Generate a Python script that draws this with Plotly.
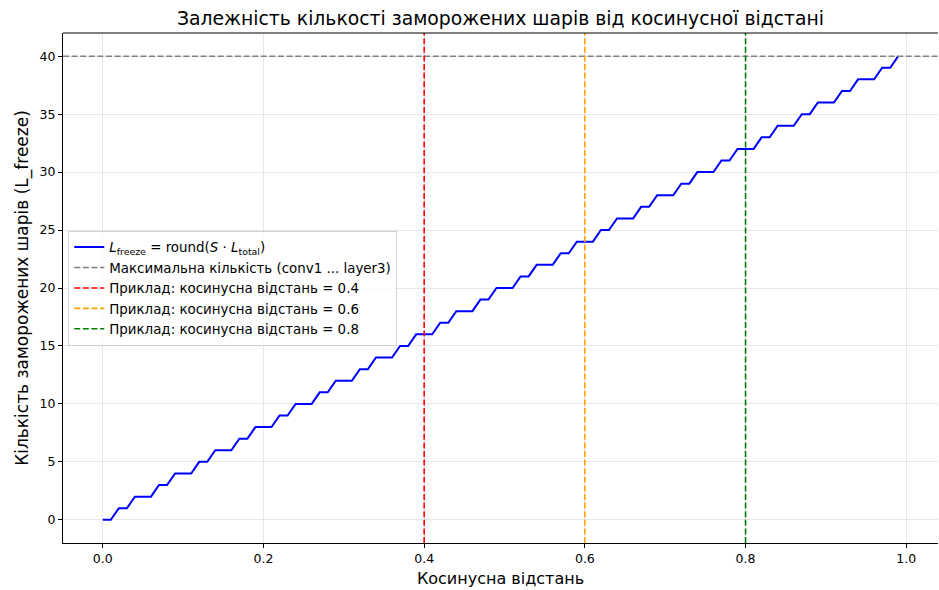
import numpy as np
import plotly.graph_objects as go

# Data
cos_dist = [round(i * 0.01, 2) for i in range(100)]
freeze_layers = [
    0, 0, 1, 1, 2, 2, 2, 3, 3, 4,
    4, 4, 5, 5, 6, 6, 6, 7, 7, 8,
    8, 8, 9, 9, 10, 10, 10, 11, 11, 12,
    12, 12, 13, 13, 14, 14, 14, 15, 15, 16,
    16, 16, 17, 17, 18, 18, 18, 19, 19, 20,
    20, 20, 21, 21, 22, 22, 22, 23, 23, 24,
    24, 24, 25, 25, 26, 26, 26, 27, 27, 28,
    28, 28, 29, 29, 30, 30, 30, 31, 31, 32,
    32, 32, 33, 33, 34, 34, 34, 35, 35, 36,
    36, 36, 37, 37, 38, 38, 38, 39, 39, 40,
]
max_layers = 40
example_dists = [0.4, 0.6, 0.8]
example_colors = ["#ff0000", "#ffa500", "#008000"]

x_ticks = [0.0, 0.2, 0.4, 0.6, 0.8, 1.0]
y_ticks = [0, 5, 10, 15, 20, 25, 30, 35, 40]

title = "Залежність кількості заморожених шарів від косинусної відстані"
x_label = "Косинусна відстань"
y_label = "Кількість заморожених шарів (L_freeze)"
main_name = "<i>L</i><sub>freeze</sub> = round(<i>S</i> · <i>L</i><sub>total</sub>)"
max_name = "Максимальна кількість (conv1 ... layer3)"

FONT = "DejaVu Sans"
DASH = "6px,2.6px"

fig = go.Figure()
fig.add_trace(go.Scatter(
    x=cos_dist, y=freeze_layers, mode="lines",
    line=dict(color="#0000ff", width=2),
    name=main_name, legendrank=1,
))

shapes = []
shapes.append(dict(
    type="line", xref="paper", x0=0, x1=1, yref="y", y0=max_layers, y1=max_layers,
    line=dict(color="#808080", width=1.6, dash=DASH),
    showlegend=True, name=max_name, legendrank=2, layer="above",
))
for i, (d, c) in enumerate(zip(example_dists, example_colors)):
    shapes.append(dict(
        type="line", xref="x", x0=d, x1=d, yref="paper", y0=0, y1=1,
        line=dict(color=c, width=1.6, dash=DASH),
        showlegend=True, name=f"Приклад: косинусна відстань = {d}",
        legendrank=3 + i, layer="above",
    ))
# top spine
shapes.append(dict(
    type="line", xref="paper", x0=0, x1=1, yref="paper", y0=1, y1=1,
    line=dict(color="#000000", width=1), layer="above",
))

fig.update_layout(
    width=939, height=590,
    margin=dict(l=63, r=1, t=33, b=47),
    paper_bgcolor="white", plot_bgcolor="white",
    font=dict(family=FONT, size=12.5, color="#000000"),
    title=dict(text=title, x=0.5, xref="paper", xanchor="center",
               y=1 - 18 / 590, yref="container", yanchor="middle",
               font=dict(size=18.8, family=FONT)),
    shapes=shapes,
    showlegend=True,
    legend=dict(
        x=0.006, y=0.612, xanchor="left", yanchor="top",
        bgcolor="rgba(255,255,255,0.8)", bordercolor="#d0d0d0", borderwidth=1,
        font=dict(size=13.4, family=FONT), tracegroupgap=0,
        itemwidth=30,
    ),
)
fig.update_xaxes(
    range=[-0.0495, 1.0395], tickvals=x_ticks, tickformat=".1f",
    showgrid=True, gridcolor="rgba(176,176,176,0.3)", gridwidth=1,
    zeroline=False, showline=True, linecolor="#000000", linewidth=1,
    ticks="outside", ticklen=4, tickcolor="#000000",
    title=dict(text=x_label, font=dict(size=16, family=FONT), standoff=7),
)
fig.update_yaxes(
    range=[-2, 42], tickvals=y_ticks,
    showgrid=True, gridcolor="rgba(176,176,176,0.3)", gridwidth=1,
    zeroline=False, showline=True, linecolor="#000000", linewidth=1,
    ticks="outside", ticklen=4, tickcolor="#000000",
    title=dict(text=y_label, font=dict(size=17, family=FONT), standoff=6),
)

fig.write_html(
    "out.html",
    config={"displayModeBar": False},
    post_script="document.body.style.margin='0';document.body.style.overflow='hidden';",
)
